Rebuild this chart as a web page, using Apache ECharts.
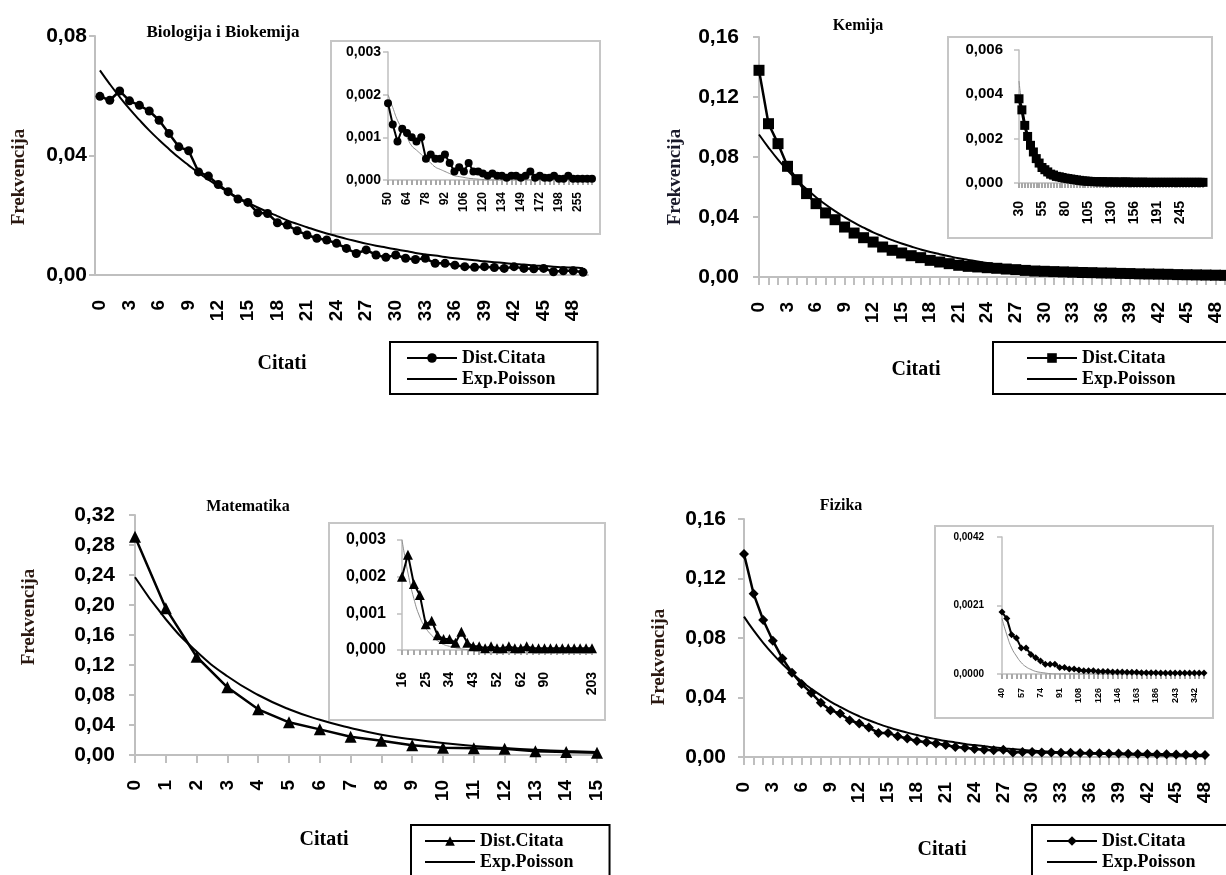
<!DOCTYPE html>
<html>
<head>
<meta charset="utf-8">
<title>Distribucija citata</title>
<script src="https://cdn.jsdelivr.net/npm/echarts@6.0.0/dist/echarts.min.js"></script>
<style>
html, body { margin: 0; padding: 0; background: #fff; }
#chart { width: 1226px; height: 875px; }
</style>
</head>
<body>
<div id="chart"></div>
<script>
// ---- data ----
var citati50 = [0,1,2,3,4,5,6,7,8,9,10,11,12,13,14,15,16,17,18,19,20,21,22,23,24,25,26,27,28,29,
  30,31,32,33,34,35,36,37,38,39,40,41,42,43,44,45,46,47,48,49];
var citati49 = [0,1,2,3,4,5,6,7,8,9,10,11,12,13,14,15,16,17,18,19,20,21,22,23,24,25,26,27,28,29,
  30,31,32,33,34,35,36,37,38,39,40,41,42,43,44,45,46,47,48];
var citati16 = [0,1,2,3,4,5,6,7,8,9,10,11,12,13,14,15];

// Biologija i Biokemija
var bioDist = [0.0598,0.0585,0.0616,0.0583,0.0568,0.0549,0.0518,0.0474,0.0429,0.0416,
  0.0345,0.0331,0.0303,0.0279,0.0254,0.0243,0.0208,0.0206,0.0175,0.0167,
  0.0148,0.0134,0.0123,0.0117,0.0106,0.0089,0.0072,0.0084,0.0067,0.0059,
  0.0067,0.0056,0.0052,0.0056,0.0039,0.0039,0.0033,0.0028,0.0026,0.0028,
  0.0025,0.0022,0.0028,0.0022,0.0021,0.0022,0.0011,0.0014,0.0014,0.0009];
var bioExp = [0.0685,0.0639,0.0596,0.0556,0.0519,0.0484,0.0452,0.0422,0.0393,0.0367,
  0.0342,0.0319,0.0298,0.0278,0.0259,0.0242,0.0226,0.0211,0.0197,0.0183,
  0.0171,0.0160,0.0149,0.0139,0.0130,0.0121,0.0113,0.0105,0.0098,0.0092,
  0.0086,0.0080,0.0074,0.0069,0.0065,0.0060,0.0056,0.0053,0.0049,0.0046,
  0.0043,0.0040,0.0037,0.0035,0.0032,0.0030,0.0028,0.0026,0.0025,0.0023];
var bioInsetCitati = [50,52,55,58,64,67,70,74,78,81,84,88,92,95,98,102,106,109,113,116,
  120,123,127,130,134,137,141,145,149,154,160,166,172,178,185,191,198,210,225,240,255,270,290,320];
var bioInsetLabels = ['50','64','78','92','106','120','134','149','172','198','255'];
var bioInsetDist = [0.0018,0.0013,0.0009,0.0012,0.0011,0.0010,0.0009,0.0010,0.0005,0.0006,
  0.0005,0.0005,0.0006,0.0004,0.0002,0.0003,0.0002,0.0004,0.0002,0.0002,
  0.00015,0.0001,0.00015,0.0001,0.0001,0.00005,0.0001,0.0001,0.00005,0.0001,
  0.0002,0.00005,0.0001,0.00005,0.00005,0.0001,0.00003,0.00003,0.0001,0.00003,
  0.00003,0.00003,0.00003,0.00003];
var bioInsetExp = [0.0020,0.0017,0.0014,0.0012,0.0010,0.0008,0.0007,0.0006,0.0005,0.0004,
  0.0003,0.00025,0.0002,0.00015,0.0001,0.00008,0.00006,0.00004,0.00003,0.00002,
  0.00001,0,0,0,0,0,0,0,0,0,0,0,0,0,0,0,0,0,0,0,0,0,0,0];

// Kemija
var kemDist = [0.1378,0.1022,0.0889,0.0738,0.0649,0.0556,0.0489,0.0427,0.0382,0.0333,
  0.0293,0.0262,0.0233,0.0200,0.0178,0.0160,0.0142,0.0129,0.0111,0.0100,
  0.0089,0.0078,0.0071,0.0067,0.0062,0.0058,0.0053,0.0049,0.0044,0.0040,
  0.0038,0.0036,0.0034,0.0032,0.0030,0.0029,0.0027,0.0026,0.0024,0.0023,
  0.0021,0.0020,0.0019,0.0018,0.0016,0.0015,0.0014,0.0013,0.0012,0.0011];
var kemExp = [0.0950,0.0863,0.0783,0.0711,0.0646,0.0586,0.0532,0.0483,0.0439,0.0399,
  0.0362,0.0329,0.0298,0.0271,0.0246,0.0223,0.0203,0.0184,0.0167,0.0152,
  0.0138,0.0125,0.0114,0.0103,0.0094,0.0085,0.0077,0.0070,0.0064,0.0058,
  0.0053,0.0048,0.0043,0.0039,0.0036,0.0032,0.0029,0.0027,0.0024,0.0022,
  0.0020,0.0018,0.0016,0.0015,0.0014,0.0012,0.0011,0.0010,0.0009,0.0008];
var kemInsetCitati = [30,33,36,39,42,45,48,52,55,58,61,64,67,70,74,77,80,83,86,89,92,95,99,102,
  105,108,111,114,117,120,124,127,130,133,136,139,142,146,150,153,156,160,164,168,173,178,183,187,
  191,197,203,210,217,224,231,238,245,255,268,280,295,310,330,350,380];
var kemInsetLabels = ['30','55','80','105','130','156','191','245'];
var kemInsetDist = [0.0038,0.0033,0.0026,0.0021,0.0017,0.0014,0.0011,0.0009,0.0007,0.0006,
  0.0005,0.0004,0.00036,0.0003,0.00028,0.00025,0.00022,0.0002,0.00018,0.00016,
  0.00014,0.00012,0.0001,0.00009,0.00008,0.00007,0.00006,0.00006,0.00005,0.00006,
  0.00005,0.00005,0.00004,0.00005,0.00004,0.00004,0.00004,0.00005,0.00004,0.00003,
  0.00004,0.00003,0.00003,0.00004,0.00003,0.00003,0.00003,0.00003,0.00003,0.00003,
  0.00003,0.00003,0.00003,0.00003,0.00003,0.00003,0.00003,0.00003,0.00003,0.00003,
  0.00003,0.00003,0.00003,0.00003,0.00003];
var kemInsetExp = [0.0046,0.0035,0.0027,0.0020,0.0015,0.0011,0.0008,0.0006,0.00045,0.00033,
  0.00025,0.00018,0.00013,0.0001,0.00007,0.00005,0.00004,0.00003,0.00002,0.00001,
  0,0,0,0,0,0,0,0,0,0,0,0,0,0,0,0,0,0,0,0,0,0,0,0,0,0,0,0,0,0,0,0,0,0,0,0,0,0,0,0,0,0,0,0,0];

// Matematika
var matDist = [0.291,0.1956,0.131,0.0902,0.0609,0.0436,0.0342,0.0244,0.0191,0.0129,
  0.0098,0.0089,0.0084,0.0049,0.0040,0.0031];
var matExp = [0.237,0.181,0.138,0.105,0.080,0.061,0.047,0.036,0.027,0.021,
  0.016,0.012,0.0093,0.0071,0.0054,0.0041];
var matInsetCitati = [16,17,19,21,25,27,29,31,34,36,38,40,43,45,47,49,52,54,56,59,
  62,66,71,78,90,100,115,130,150,165,180,190,203];
var matInsetLabels = ['16','25','34','43','52','62','90','203'];
var matInsetDist = [0.0020,0.0026,0.0018,0.0015,0.0007,0.0008,0.0004,0.0003,0.0003,0.0002,
  0.0005,0.0002,0.0001,0.0001,0.00005,0.0001,0.00005,0.00005,0.0001,0.00005,
  0.00005,0.0001,0.00005,0.00005,0.00005,0.00005,0.00005,0.00005,0.00005,0.00005,
  0.00005,0.00005,0.00005];
var matInsetExp = [0.0030,0.0021,0.0014,0.0009,0.0006,0.0004,0.00025,0.00015,0.0001,0.00006,
  0.00003,0.00001,0,0,0,0,0,0,0,0,0,0,0,0,0,0,0,0,0,0,0,0,0];

// Fizika
var fizDist = [0.1364,0.1097,0.0921,0.0782,0.0663,0.0566,0.0490,0.0431,0.0364,0.0315,
  0.0292,0.0247,0.0225,0.0198,0.0162,0.0162,0.0139,0.0124,0.0108,0.0099,
  0.0090,0.0081,0.0067,0.0063,0.0054,0.0049,0.0045,0.0049,0.0031,0.0034,
  0.0034,0.0031,0.0030,0.0029,0.0028,0.0027,0.0026,0.0025,0.0024,0.0023,
  0.0022,0.0021,0.0020,0.0019,0.0018,0.0016,0.0015,0.0014,0.0013];
var fizExp = [0.0944,0.0851,0.0768,0.0693,0.0625,0.0564,0.0508,0.0459,0.0414,0.0373,
  0.0337,0.0304,0.0274,0.0247,0.0223,0.0201,0.0181,0.0164,0.0148,0.0133,
  0.0120,0.0108,0.0098,0.0088,0.0080,0.0072,0.0065,0.0058,0.0053,0.0048,
  0.0043,0.0039,0.0035,0.0031,0.0028,0.0025,0.0023,0.0021,0.0019,0.0017,
  0.0015,0.0014,0.0012,0.0011,0.0010,0.0009,0.0008,0.0007,0.0007];
var fizInsetCitati = [40,44,48,52,57,61,65,69,74,78,82,86,91,95,99,103,108,112,117,121,
  126,131,136,141,146,150,155,159,163,168,174,180,186,200,215,230,243,260,280,310,342,380,420];
var fizInsetLabels = ['40','57','74','91','108','126','146','163','186','243','342'];
var fizInsetDist = [0.0019,0.0017,0.0012,0.0011,0.0008,0.0008,0.0006,0.0005,0.0004,0.0003,
  0.0003,0.0003,0.0002,0.0002,0.00015,0.00015,0.00012,0.0001,0.0001,0.0001,
  0.00008,0.00008,0.00008,0.00006,0.00006,0.00006,0.00005,0.00005,0.00005,0.00004,
  0.00004,0.00004,0.00004,0.00003,0.00003,0.00003,0.00003,0.00003,0.00003,0.00003,
  0.00003,0.00003,0.00003];
var fizInsetExp = [0.0017,0.0012,0.0008,0.00055,0.00035,0.00022,0.00014,0.00008,0.00005,0.00003,
  0.00001,0,0,0,0,0,0,0,0,0,0,0,0,0,0,0,0,0,0,0,0,0,0,0,0,0,0,0,0,0,0,0,0];

// ---- styling helpers ----
var GREY = '#bfbfbf';
var SANS = '"Liberation Sans", Arial, sans-serif';
var SERIF = '"Liberation Serif", "Times New Roman", serif';

function comma(d) {
  return function (v) { return v.toFixed(d).replace('.', ','); };
}
function grid(left, top, width, height) {
  return { left: left, top: top, width: width, height: height, containLabel: false, outerBoundsMode: 'none' };
}
function mainX(idx, cats, gap, every) {
  return {
    gridIndex: idx, type: 'category', data: cats, boundaryGap: gap,
    axisLine: { lineStyle: { color: GREY, width: 2 } },
    axisTick: { interval: 0, length: 8, lineStyle: { color: GREY, width: 2 } },
    axisLabel: { interval: every, rotate: 90, margin: 25, color: '#000',
      fontFamily: SANS, fontWeight: 'bold', fontSize: 19 }
  };
}
function mainY(idx, max, margin) {
  return {
    gridIndex: idx, type: 'value', min: 0, max: max, interval: 0.04,
    axisLine: { show: true, lineStyle: { color: GREY, width: 2 } },
    axisTick: { show: true, length: 6, lineStyle: { color: GREY, width: 2 } },
    splitLine: { show: false },
    axisLabel: { margin: margin, formatter: comma(2), color: '#000',
      fontFamily: SANS, fontWeight: 'bold', fontSize: 21 }
  };
}
function insetX(idx, cats, labels, fs, margin) {
  return {
    gridIndex: idx, type: 'category', data: cats, boundaryGap: false,
    axisLine: { lineStyle: { color: GREY, width: 1.5 } },
    axisTick: { interval: 0, length: 5, lineStyle: { color: '#a8a8a8', width: 2 } },
    axisLabel: {
      interval: function (i, v) { return labels.indexOf(String(v)) >= 0; },
      rotate: 90, margin: margin, color: '#000', fontFamily: SANS, fontWeight: 'bold', fontSize: fs
    }
  };
}
function insetY(idx, max, step, dec, fs, margin) {
  return {
    gridIndex: idx, type: 'value', min: 0, max: max, interval: step,
    axisLine: { show: true, lineStyle: { color: GREY, width: 1.5 } },
    axisTick: { show: true, length: 5, lineStyle: { color: GREY, width: 1.5 } },
    splitLine: { show: false },
    axisLabel: { margin: margin, formatter: comma(dec), color: '#000',
      fontFamily: SANS, fontWeight: 'bold', fontSize: fs }
  };
}
function dist(name, idx, data, symbol, size, width) {
  return {
    name: name, type: 'line', xAxisIndex: idx, yAxisIndex: idx, data: data,
    symbol: symbol, symbolSize: size, showAllSymbol: true,
    lineStyle: { color: '#000', width: width }, itemStyle: { color: '#000' }, z: 3
  };
}
function expo(name, idx, data, color, width) {
  return {
    name: name, type: 'line', xAxisIndex: idx, yAxisIndex: idx, data: data,
    smooth: true, symbol: 'none',
    lineStyle: { color: color, width: width }, itemStyle: { color: color }, z: 2
  };
}
// legend: first entry shows the marker, second entry only the line
function legendBox(left, top, distName, expName, padLeft, padRight) {
  return {
    left: left, top: top, height: 120, orient: 'vertical', selectedMode: false,
    data: [{ name: distName }, { name: expName, itemStyle: { opacity: 0 } }],
    itemWidth: 50, itemHeight: 12, itemGap: 3,
    borderColor: '#000', borderWidth: 2, padding: [7, padRight, 6, padLeft],
    textStyle: { fontFamily: SERIF, fontWeight: 'bold', fontSize: 18, color: '#000' }
  };
}
function label(text, x, y, size, rot, color) {
  return {
    type: 'text', x: x, y: y, rotation: rot || 0, silent: true,
    style: { text: text, font: 'bold ' + size + 'px ' + SERIF, fill: color || '#000',
      align: 'center', verticalAlign: 'middle' }
  };
}
function box(x, y, w, h) {
  return { type: 'rect', silent: true, shape: { x: x, y: y, width: w, height: h },
    style: { fill: 'none', stroke: '#c6c6c6', lineWidth: 2 } };
}

var chart = echarts.init(document.getElementById('chart'));
var option = {
  animation: false,
  backgroundColor: '#fff',
  grid: [
    grid(95, 36, 493, 239),     // 0 Biologija
    grid(759, 37, 466, 240),    // 1 Kemija
    grid(135, 515, 462, 240),   // 2 Matematika
    grid(744, 519, 461, 238),   // 3 Fizika
    grid(388, 52, 204, 128),    // 4 inset Biologija
    grid(1019, 50, 184, 133),   // 5 inset Kemija
    grid(402, 540, 190, 110),   // 6 inset Matematika
    grid(1002, 537, 202, 137)   // 7 inset Fizika
  ],
  xAxis: [
    mainX(0, citati50, true, 2),
    mainX(1, citati50, false, 2),
    mainX(2, citati16, false, 0),
    mainX(3, citati49, false, 2),
    insetX(4, bioInsetCitati, bioInsetLabels, 12, 12),
    insetX(5, kemInsetCitati, kemInsetLabels, 14, 18),
    insetX(6, matInsetCitati, matInsetLabels, 14, 22),
    insetX(7, fizInsetCitati, fizInsetLabels, 9, 14)
  ],
  yAxis: [
    mainY(0, 0.08, 8),
    mainY(1, 0.16, 20),
    mainY(2, 0.32, 20),
    mainY(3, 0.16, 18),
    insetY(4, 0.003, 0.001, 3, 14, 7),
    insetY(5, 0.006, 0.002, 3, 15, 16),
    insetY(6, 0.003, 0.001, 3, 16, 16),
    insetY(7, 0.0042, 0.0021, 4, 10, 18)
  ],
  legend: [
    legendBox(390, 342, 'Dist.Citata', 'Exp.Poisson', 16, 42),
    legendBox(993, 342, 'Dist.Citata ', 'Exp.Poisson ', 33, 100),
    legendBox(411, 825, 'Dist.Citata  ', 'Exp.Poisson  ', 13, 27),
    legendBox(1032, 825, 'Dist.Citata   ', 'Exp.Poisson   ', 14, 90)
  ],
  series: [
    dist('Dist.Citata', 0, bioDist, 'circle', 9, 2.5),
    expo('Exp.Poisson', 0, bioExp, '#000', 2),
    dist('Dist.Citata ', 1, kemDist, 'rect', 11, 2.5),
    expo('Exp.Poisson ', 1, kemExp, '#000', 2),
    dist('Dist.Citata  ', 2, matDist, 'triangle', 12, 2.5),
    expo('Exp.Poisson  ', 2, matExp, '#000', 2),
    dist('Dist.Citata   ', 3, fizDist, 'diamond', 10, 2.5),
    expo('Exp.Poisson   ', 3, fizExp, '#000', 2),
    dist('bioInset', 4, bioInsetDist, 'circle', 8, 2),
    expo('bioInsetExp', 4, bioInsetExp, '#8c8c8c', 1),
    dist('kemInset', 5, kemInsetDist, 'rect', 9, 3),
    expo('kemInsetExp', 5, kemInsetExp, '#8c8c8c', 1),
    dist('matInset', 6, matInsetDist, 'triangle', 10, 2),
    expo('matInsetExp', 6, matInsetExp, '#8c8c8c', 1),
    dist('fizInset', 7, fizInsetDist, 'diamond', 7, 2),
    expo('fizInsetExp', 7, fizInsetExp, '#8c8c8c', 1)
  ],
  graphic: [
    box(331, 41, 269, 193),
    box(948, 37, 264, 201),
    box(329, 523, 276, 197),
    box(935, 526, 278, 192),
    label('Biologija i Biokemija', 223, 33, 17),
    label('Kemija', 858, 26, 16),
    label('Matematika', 248, 507, 16),
    label('Fizika', 841, 506, 16),
    label('Citati', 282, 364, 20),
    label('Citati', 916, 370, 20),
    label('Citati', 324, 840, 20),
    label('Citati', 942, 850, 20),
    label('Frekvencija', 19, 177, 19, Math.PI / 2, '#2a1810'),
    label('Frekvencija', 675, 177, 19, Math.PI / 2, '#1a1a2a'),
    label('Frekvencija', 29, 617, 19, Math.PI / 2, '#2a1810'),
    label('Frekvencija', 659, 657, 19, Math.PI / 2, '#2a1810')
  ]
};
chart.setOption(option);
</script>
</body>
</html>
